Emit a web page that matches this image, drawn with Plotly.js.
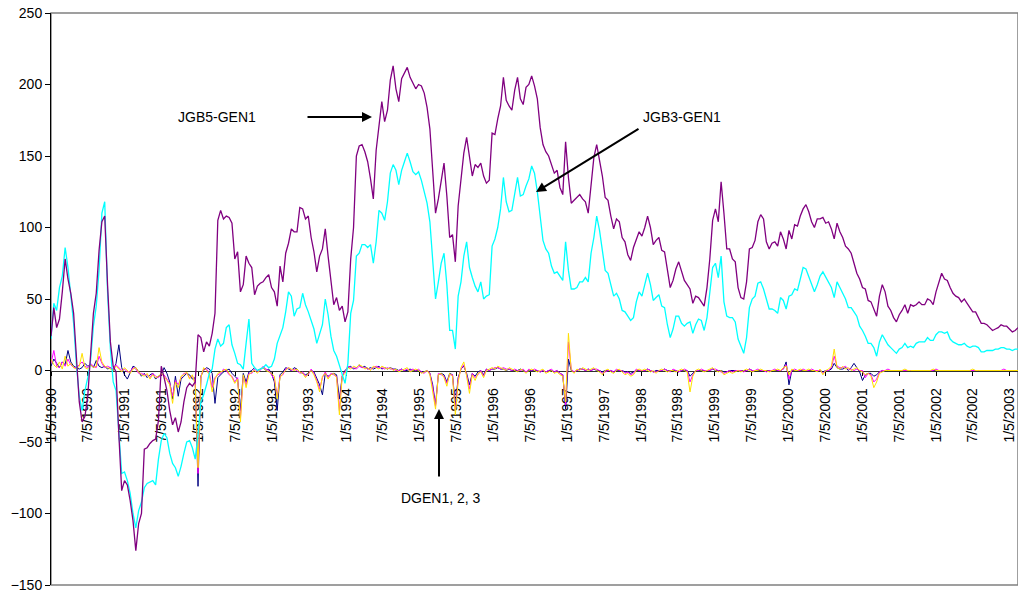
<!DOCTYPE html>
<html>
<head>
<meta charset="utf-8">
<script src="https://cdn.plot.ly/plotly-3.0.1.min.js"></script>
<style>
html,body{margin:0;padding:0;background:#ffffff;}
#chart{width:1018px;height:594px;}
</style>
</head>
<body>
<div id="chart"></div>
<script>
// ---- categories (fortnightly observation dates) ----
const startDate = '1990-01-05';
const stepDays = 14;
const pointCount = 343;

// ---- tick labels ----
const tickDates = ['1990-01-05','1990-07-05','1991-01-05','1991-07-05','1992-01-05','1992-07-05',
  '1993-01-05','1993-07-05','1994-01-05','1994-07-05','1995-01-05','1995-07-05','1996-01-05',
  '1996-07-05','1997-01-05','1997-07-05','1998-01-05','1998-07-05','1999-01-05','1999-07-05',
  '2000-01-05','2000-07-05','2001-01-05','2001-07-05','2002-01-05','2002-07-05','2003-01-05'];
const tickText = ['1/5/1990','7/5/1990','1/5/1991','7/5/1991','1/5/1992','7/5/1992',
  '1/5/1993','7/5/1993','1/5/1994','7/5/1994','1/5/1995','7/5/1995','1/5/1996',
  '7/5/1996','1/5/1997','7/5/1997','1/5/1998','7/5/1998','1/5/1999','7/5/1999',
  '1/5/2000','7/5/2000','1/5/2001','7/5/2001','1/5/2002','7/5/2002','1/5/2003'];

// ---- series values ----
const jgb5Gen1 = [
24,44,30,36,55,78,64,54,40,6,
-22,-36,-32,-18,8,40,54,84,104,108,
60,20,3,-1,-45,-84,-77,-80,-91,-105,
-126,-107,-100,-55,-54,-51,-49,-48,-35,3,
-5,-14,-28,-38,-33,-43,-36,-22,-12,-9,
-11,-8,25,23,13,20,17,26,40,105,
112,106,108,107,103,78,83,55,60,80,
75,72,53,59,61,62,65,67,58,55,
45,73,62,82,89,99,97,97,114,113,
106,108,93,83,69,80,85,99,80,64,
46,51,42,45,34,41,78,100,150,157,
158,153,146,134,120,154,172,188,174,182,
203,213,197,188,204,208,212,205,201,197,
200,199,194,184,169,136,110,120,133,145,
122,93,95,76,115,132,152,163,151,136,
144,142,145,136,131,133,166,165,176,185,
205,189,185,182,196,205,190,186,198,200,
206,199,190,170,158,153,150,144,138,140,
128,123,160,135,117,119,121,123,120,118,
110,130,149,158,148,136,121,119,108,99,
106,104,93,90,81,77,86,92,97,94,
100,108,100,88,91,93,84,83,70,58,
63,71,76,70,63,60,57,47,52,51,
48,45,58,78,105,113,104,132,110,85,
85,78,76,58,51,50,62,85,86,91,
104,109,106,90,85,89,90,87,97,92,
85,98,92,102,101,108,113,116,111,104,
100,106,106,107,103,104,99,92,103,97,
93,87,85,82,75,68,64,58,57,49,
48,43,38,52,60,55,45,42,37,34,
39,42,46,40,46,45,46,48,46,46,
50,49,46,55,62,68,64,63,58,54,
52,51,48,50,47,44,41,41,37,33,
33,32,30,28,29,30,32,31,31,29,
27,28,30];

const jgb3Gen1 = [
22,47,42,58,66,86,72,50,33,4,
-18,-28,-14,-5,7,31,45,70,110,118,
55,15,-8,-14,-43,-72,-71,-77,-86,-100,
-110,-98,-92,-82,-79,-78,-77,-80,-62,-49,
-44,-47,-58,-65,-68,-74,-67,-58,-50,-49,
-54,-62,-45,-22,-17,-10,-2,1,15,22,
17,19,30,32,18,12,5,4,1,19,
36,5,2,0,1,2,4,2,3,8,
19,24,30,41,55,52,38,43,44,54,
46,41,35,29,19,26,32,50,39,24,
14,10,4,-3,-9,5,40,49,80,82,
88,88,86,88,75,90,112,110,105,118,
138,144,140,130,140,146,152,146,139,137,
139,133,125,117,104,76,50,62,75,82,
60,28,28,15,52,62,80,90,72,65,
59,55,62,50,52,53,87,92,100,113,
135,118,111,112,125,135,122,123,129,134,
143,138,125,108,91,85,82,73,68,69,
66,63,90,70,57,57,58,62,62,65,
62,82,93,108,98,82,70,68,59,52,
54,50,42,41,38,35,37,48,55,52,
60,68,60,49,51,53,45,44,32,23,
29,38,38,33,31,33,34,26,32,36,
35,28,37,54,72,75,65,80,48,38,
37,37,34,22,17,12,23,44,50,52,
61,62,57,50,43,43,42,40,51,49,
43,52,53,57,56,64,72,71,66,61,
55,60,66,69,65,61,58,51,62,58,
54,50,44,44,41,38,31,28,24,19,
19,16,10,20,25,21,18,16,14,12,
15,16,19,16,17,16,19,20,20,20,
23,21,21,25,27,27,26,27,22,20,
19,18,18,19,17,16,17,17,16,13,
13,14,14,14,15,15,16,16,15,15,
14,15,15];

const dgen1 = [
3,8,5,2,6,4,14,6,3,2,
1,2,5,3,4,2,7,3,2,3,
1,2,0,5,18,2,-3,-6,-2,3,
2,-1,-4,-2,-5,-3,-2,-6,-4,-3,
2,-2,-8,-20,-4,-18,-6,-4,-2,-3,
-6,-5,-81,-4,0,2,1,-2,-23,-5,
-3,-1,0,1,-2,-4,-6,-28,-2,-8,
-1,0,2,0,1,2,0,1,-2,-8,
-28,-3,-1,2,1,0,2,1,-1,-2,
-3,-2,0,-1,-6,-10,-17,-2,-4,-3,
-2,-3,-20,-4,0,2,3,1,2,4,
2,3,1,2,1,2,3,1,2,1,
2,1,1,0,1,0,0,1,0,0,
0,-1,-1,0,-2,-10,-24,-3,-2,-3,
-8,-2,-3,-25,-5,1,3,-2,-10,-2,
-4,-1,0,-3,1,0,1,1,2,1,
1,0,1,0,0,0,1,0,-1,0,
0,0,0,-1,0,-1,0,0,-1,0,
-2,-3,-27,8,0,-1,0,1,1,0,
1,0,1,0,0,-1,0,0,0,-1,
0,0,0,-1,-1,-2,-1,0,0,0,
0,1,0,-1,0,0,0,1,0,0,
0,0,-1,0,0,0,-4,-2,0,0,
0,0,0,0,1,0,0,0,-1,-1,
0,0,0,0,0,0,0,1,0,0,
0,0,0,0,0,0,0,0,0,1,
6,-10,0,0,0,0,0,0,0,0,
0,0,0,-1,0,0,1,5,2,1,
1,2,0,2,5,2,-1,-7,-3,-2,
-2,-4,-3,-1,0,0,0,0,0,0,
0,0,0,0,0,0,0,0,0,0,
0,0,0,0,0,0,0,0,0,0,
0,0,0,0,0,0,0,0,0,0,
0,0,0,0,0,0,0,0,0,0,
0,0,0];

const dgen2 = [
5,14,3,2,6,3,8,4,2,2,
4,6,3,2,5,3,2,10,5,2,
3,2,1,4,2,0,1,-1,-1,2,
1,-2,-2,-3,-3,-5,-2,-4,-5,-3,
-3,-6,-9,-18,-7,-10,-5,-2,-2,-5,
-4,-8,-72,-4,1,1,-2,-12,-5,-3,
-2,1,0,-3,-4,-8,-5,-33,-4,-10,
-2,-2,1,-1,0,3,1,0,-3,-6,
-18,-4,-3,1,2,0,1,0,-2,-1,
-4,-3,1,-2,-7,-13,-5,-1,-5,-2,
-3,-4,-28,-3,-1,3,2,2,1,3,
2,2,1,1,2,3,2,2,1,2,
1,1,0,0,1,0,1,0,1,0,
1,-1,-2,0,-2,-12,-25,-2,-3,-4,
-9,-3,-3,-28,-6,1,4,-3,-13,-2,
-5,-3,0,-4,1,0,1,2,2,1,
2,1,1,0,1,0,0,1,-1,1,
0,1,0,-1,0,-1,0,1,-1,0,
-2,-3,-24,20,1,-1,0,1,1,0,
1,0,1,1,0,-2,-1,0,0,-1,
1,0,0,-2,-1,-3,-2,1,0,0,
0,1,0,-1,-1,0,0,1,0,-1,
1,0,-1,0,1,0,-8,-3,0,0,
1,0,0,0,1,1,0,-1,-2,-1,
0,-1,0,0,0,-1,0,1,0,0,
1,0,0,-1,0,0,1,0,0,1,
4,-6,0,1,0,0,1,0,0,1,
0,0,0,-2,0,0,2,10,3,2,
2,3,1,1,0,1,0,0,-5,-2,
-3,-8,-6,-1,0,0,1,0,0,0,
0,0,0,0,0,0,0,0,0,0,
0,0,0,1,0,0,0,0,0,0,
0,0,0,0,0,0,0,0,0,0,
0,0,0,0,0,0,0,1,0,0,
0,0,0];

const dgen3 = [
8,4,2,6,1,10,3,5,2,1,
3,12,2,1,4,2,3,16,6,3,
2,1,0,3,1,-1,2,0,-2,1,
2,-1,-3,-4,-2,-6,-3,-5,-4,-2,
-4,-7,-10,-23,-8,-12,-4,-3,-1,-6,
-3,-10,-68,-5,2,0,-3,-15,-6,-2,
-1,0,1,-2,-5,-9,-6,-36,-3,-12,
-3,-1,0,-2,1,2,0,-1,-2,-4,
-20,-5,-2,0,2,1,0,1,-1,-2,
-5,-2,0,-3,-8,-15,-4,-2,-6,-3,
-2,-5,-31,-4,-2,2,1,3,2,4,
3,1,2,0,3,2,1,3,2,1,
2,0,1,-1,0,1,2,-1,0,1,
0,-2,-1,0,-3,-15,-27,-3,-2,-5,
-11,-2,-4,-31,-8,2,6,-4,-16,-3,
-7,-2,-1,-5,0,1,2,1,3,2,
1,0,2,1,0,-1,1,0,-2,0,
1,0,-1,0,1,-2,-1,0,-2,-1,
-3,-4,-22,26,0,-2,1,0,2,1,
0,1,2,0,-1,-3,0,1,-1,-2,
0,1,-1,-3,-2,-4,-3,0,1,0,
1,0,-1,0,-2,0,1,0,-1,0,
0,-1,0,1,0,-1,-15,-4,0,1,
0,-1,0,1,2,0,-1,0,-3,-2,
-1,-2,-1,0,-1,0,1,0,-1,0,
0,1,0,0,-1,0,0,1,0,2,
3,-3,1,0,0,1,0,0,1,0,
0,-1,1,-3,0,1,3,15,2,1,
3,1,2,0,1,2,0,-1,-3,-2,
-4,-12,-8,-2,-1,0,0,0,0,0,
0,0,1,0,0,0,0,0,0,0,
0,0,1,0,0,0,0,0,0,0,
0,0,0,0,0,0,1,0,0,0,
0,0,0,0,0,0,0,0,0,0,
0,0,0];

// ---- build date categories ----
const dates = [];
{
  const p = startDate.split('-').map(Number);
  const t0 = Date.UTC(p[0], p[1] - 1, p[2]);
  for (let i = 0; i < pointCount; i++) {
    const d = new Date(t0 + i * stepDays * 86400000);
    dates.push(d.toISOString().slice(0, 10));
  }
}
[['jgb5Gen1',jgb5Gen1],['jgb3Gen1',jgb3Gen1],['dgen1',dgen1],['dgen2',dgen2],['dgen3',dgen3]].forEach(([n,a])=>{
  if (a.length !== pointCount) throw new Error(n + ' length ' + a.length);
});

const FONT = 'Liberation Sans, Arial, Helvetica, sans-serif';

function line(name, y, color, width) {
  return {x: dates, y: y, name: name, type: 'scatter', mode: 'lines',
          line: {color: color, width: width}, hoverinfo: 'skip'};
}

const data = [
  line('DGEN1', dgen1, '#000080', 1),
  line('DGEN2', dgen2, '#FF00FF', 1),
  line('DGEN3', dgen3, '#FFE000', 1),
  line('JGB3-GEN1', jgb3Gen1, '#00FFFF', 1.3),
  line('JGB5-GEN1', jgb5Gen1, '#800080', 1.3)
];

const annFont = {family: FONT, size: 14, color: '#000000'};
const layout = {
  width: 1018, height: 594,
  margin: {l: 51, r: 0, t: 13, b: 9, pad: 0},
  paper_bgcolor: '#ffffff', plot_bgcolor: '#ffffff',
  showlegend: false,
  font: {family: FONT, size: 14, color: '#000000'},
  xaxis: {
    type: 'date', range: ['1990-01-05', '2003-02-14'],
    anchor: 'free', position: 0.375,
    tickmode: 'array', tickvals: tickDates, ticktext: tickText,
    tickangle: -90, ticks: 'outside', ticklen: 4, tickwidth: 1, tickcolor: '#000000',
    ticklabelstandoff: 7,
    showline: true, linecolor: '#303030', linewidth: 1,
    showgrid: false, zeroline: false, layer: 'below traces',
    tickfont: {family: FONT, size: 14, color: '#000000'}
  },
  yaxis: {
    range: [-150, 250], tick0: -150, dtick: 50,
    ticks: 'outside', ticklen: 5, tickwidth: 1, tickcolor: '#000000',
    showline: true, linecolor: '#000000', linewidth: 1,
    showgrid: false, zeroline: false,
    tickfont: {family: FONT, size: 14, color: '#000000'}
  },
  shapes: [{type: 'rect', xref: 'paper', yref: 'paper', x0: 0, x1: 1, y0: 0, y1: 1,
            line: {color: '#808080', width: 1.5}, layer: 'below'}],
  annotations: [
    {xref: 'paper', yref: 'paper', x: 0.172, y: 0.8175, text: 'JGB5-GEN1', showarrow: false,
     xanchor: 'center', yanchor: 'middle', font: annFont},
    {xref: 'paper', yref: 'paper', x: 0.653, y: 0.8175, text: 'JGB3-GEN1', showarrow: false,
     xanchor: 'center', yanchor: 'middle', font: annFont},
    {xref: 'paper', yref: 'paper', x: 0.4033, y: 0.152, text: 'DGEN1, 2, 3', showarrow: false,
     xanchor: 'center', yanchor: 'middle', font: annFont},
    {xref: 'paper', yref: 'paper', x: (372 - 51) / 967, y: (585 - 117) / 572, text: '',
     showarrow: true, ax: -66, ay: 0, arrowhead: 2, arrowsize: 1, arrowwidth: 2, arrowcolor: '#000000'},
    {xref: 'paper', yref: 'paper', x: (536 - 51) / 967, y: (585 - 192) / 572, text: '',
     showarrow: true, ax: 104, ay: -64, arrowhead: 2, arrowsize: 1, arrowwidth: 2, arrowcolor: '#000000'},
    {xref: 'paper', yref: 'paper', x: (439 - 51) / 967, y: (585 - 409) / 572, text: '',
     showarrow: true, ax: 0, ay: 69, arrowhead: 2, arrowsize: 1, arrowwidth: 2, arrowcolor: '#000000'}
  ]
};

Plotly.newPlot('chart', data, layout, {staticPlot: true, displayModeBar: false});
</script>
</body>
</html>
